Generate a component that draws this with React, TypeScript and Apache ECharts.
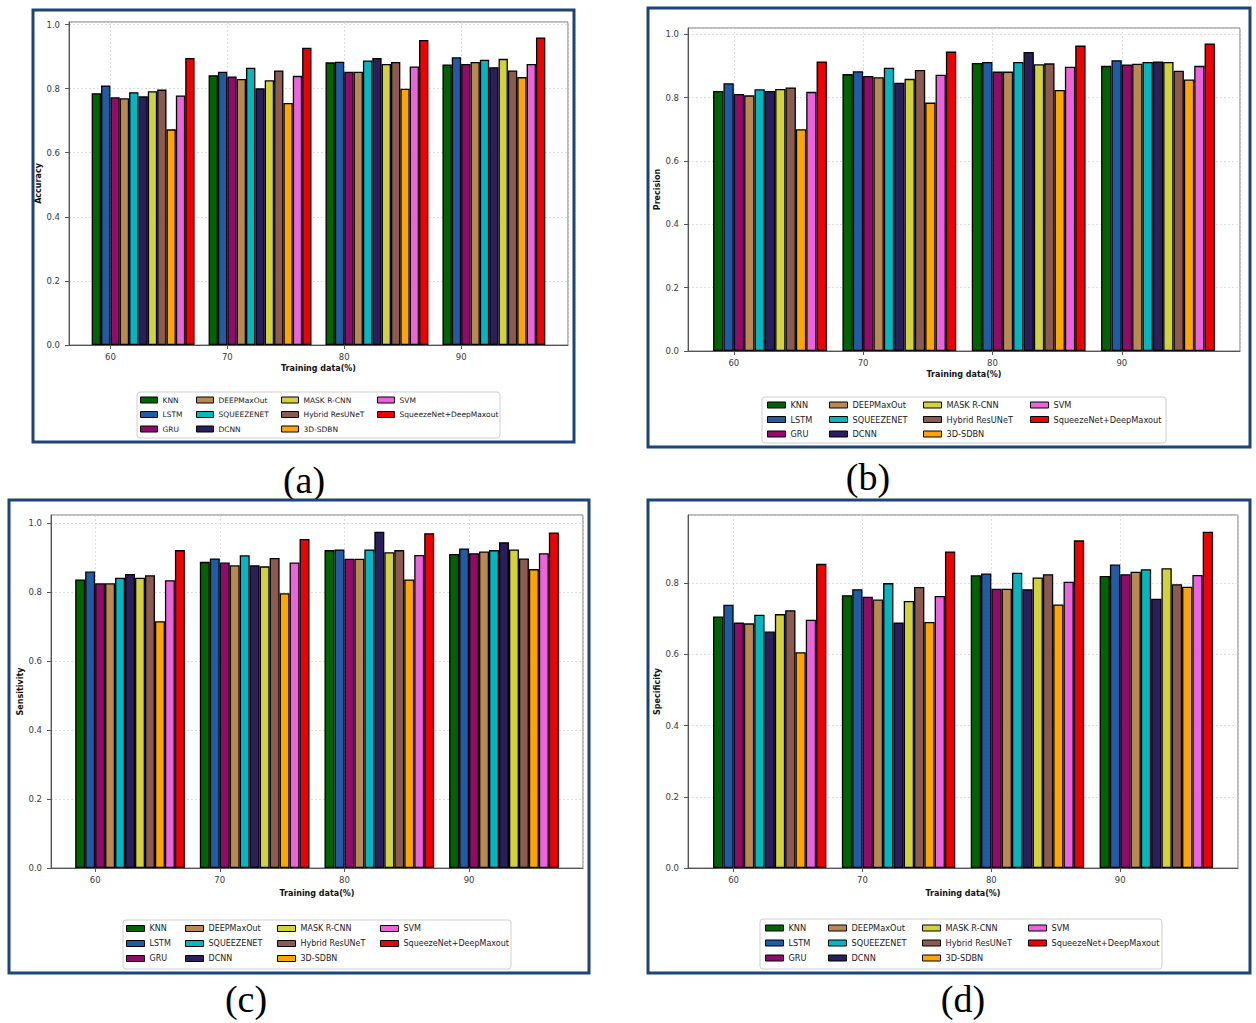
import React, { useEffect, useRef } from 'react';
import * as echarts from 'echarts';

// ---------- data ----------
const trainingData = ['60', '70', '80', '90'];
const methods = [
  'KNN', 'LSTM', 'GRU', 'DEEPMaxOut', 'SQUEEZENET', 'DCNN',
  'MASK R-CNN', 'Hybrid ResUNeT', '3D-SDBN', 'SVM', 'SqueezeNet+DeepMaxout',
];
const methodColors = [
  '#006400', '#1f5ca6', '#930a6d', '#b9894f', '#00b7c2', '#2b1e5c',
  '#d2d23a', '#8c5a4f', '#ffa500', '#ef62dd', '#f00000',
];

// values per method (same order as `methods`) for each training percentage
const accuracy60 = [0.786, 0.810, 0.773, 0.770, 0.789, 0.776, 0.792, 0.797, 0.673, 0.779, 0.896];
const accuracy70 = [0.842, 0.853, 0.838, 0.830, 0.865, 0.801, 0.826, 0.857, 0.755, 0.840, 0.928];
const accuracy80 = [0.882, 0.884, 0.853, 0.853, 0.888, 0.896, 0.877, 0.883, 0.800, 0.869, 0.952];
const accuracy90 = [0.875, 0.898, 0.877, 0.883, 0.890, 0.867, 0.893, 0.857, 0.836, 0.877, 0.960];

const precision60 = [0.821, 0.845, 0.811, 0.807, 0.826, 0.821, 0.827, 0.832, 0.700, 0.818, 0.914];
const precision70 = [0.874, 0.883, 0.868, 0.864, 0.894, 0.847, 0.859, 0.887, 0.784, 0.872, 0.945];
const precision80 = [0.909, 0.912, 0.882, 0.882, 0.912, 0.944, 0.905, 0.908, 0.824, 0.897, 0.964];
const precision90 = [0.900, 0.918, 0.904, 0.907, 0.912, 0.914, 0.912, 0.885, 0.857, 0.900, 0.971];

const sensitivity60 = [0.836, 0.859, 0.825, 0.825, 0.841, 0.852, 0.841, 0.848, 0.715, 0.834, 0.921];
const sensitivity70 = [0.887, 0.897, 0.885, 0.877, 0.906, 0.877, 0.874, 0.898, 0.796, 0.885, 0.953];
const sensitivity80 = [0.921, 0.923, 0.896, 0.896, 0.923, 0.974, 0.915, 0.921, 0.836, 0.907, 0.970];
const sensitivity90 = [0.910, 0.926, 0.912, 0.917, 0.921, 0.944, 0.923, 0.897, 0.866, 0.912, 0.972];

const specificity60 = [0.706, 0.739, 0.689, 0.687, 0.711, 0.664, 0.713, 0.724, 0.606, 0.697, 0.854];
const specificity70 = [0.766, 0.783, 0.762, 0.754, 0.800, 0.689, 0.750, 0.789, 0.691, 0.764, 0.889];
const specificity80 = [0.822, 0.827, 0.784, 0.784, 0.829, 0.783, 0.816, 0.825, 0.740, 0.804, 0.920];
const specificity90 = [0.820, 0.852, 0.825, 0.832, 0.839, 0.756, 0.842, 0.797, 0.790, 0.823, 0.944];

const metricNames = ['Accuracy', 'Precision', 'Sensitivity', 'Specificity'];
const panelLabels = ['(a)', '(b)', '(c)', '(d)'];
const xTitle = 'Training data(%)';

// ---------- layout (positions / sizes only) ----------
const panelLayouts = [
  {
    values: [accuracy60, accuracy70, accuracy80, accuracy90],
    grid: { left: 69, top: 22, width: 499, height: 323 },
    yNameGap: 21, xNameGap: 19,
    legendLefts: [140, 196, 281, 377], legendTop: 395.5, legendGap: 5.5, legendFont: 7.5, legendIconW: 17,
    legendFrame: [137, 392, 363, 46],
    border: [33, 10, 541, 432],
    labelPos: [304, 480],
  },
  {
    values: [precision60, precision70, precision80, precision90],
    grid: { left: 688, top: 28, width: 552, height: 323 },
    yNameGap: 23, xNameGap: 19,
    legendLefts: [767, 829, 923, 1030], legendTop: 400.5, legendGap: 5.5, legendFont: 8.2, legendIconW: 18,
    legendFrame: [762, 397, 404, 46],
    border: [648, 8, 602, 439],
    labelPos: [868, 477],
  },
  {
    values: [sensitivity60, sensitivity70, sensitivity80, sensitivity90],
    grid: { left: 51, top: 515, width: 532, height: 353 },
    yNameGap: 22, xNameGap: 21,
    legendLefts: [126, 185, 277, 380], legendTop: 924, legendGap: 6, legendFont: 8, legendIconW: 18,
    legendFrame: [123, 920, 388, 49],
    border: [9, 500, 580, 473],
    labelPos: [246, 999],
  },
  {
    values: [specificity60, specificity70, specificity80, specificity90],
    grid: { left: 688, top: 515, width: 550, height: 353 },
    yNameGap: 23, xNameGap: 21,
    legendLefts: [765, 828, 922, 1028], legendTop: 923.5, legendGap: 6, legendFont: 8.2, legendIconW: 18,
    legendFrame: [760, 919, 402, 50],
    border: [648, 500, 602, 473],
    labelPos: [963, 999],
  },
];

const legendColumns = [[0, 3], [3, 6], [6, 9], [9, 11]];
const BAR_W = 0.08; // bar width in group units (group pitch = 1)
const TICK_SHIFT = 2; // tick sits 2 bar widths after the group's left edge

const App: React.FC = () => {
  const ref = useRef<HTMLDivElement>(null);

  useEffect(() => {
    if (!ref.current) return;
    const chart = echarts.init(ref.current, undefined, { renderer: 'svg' });

    const nM = methods.length;
    const dataLo = -TICK_SHIFT * BAR_W;
    const dataHi = trainingData.length - 1 - TICK_SHIFT * BAR_W + nM * BAR_W;
    const pad = (dataHi - dataLo) * 0.05;
    const xMin = dataLo - pad;
    const xMax = dataHi + pad;

    const grids: any[] = [];
    const xAxes: any[] = [];
    const yAxes: any[] = [];
    const series: any[] = [];
    const legends: any[] = [];
    const graphics: any[] = [];

    const tickFont = { fontSize: 8.5, fontFamily: 'DejaVu Sans', color: '#3a3a3a' };
    const titleFont = { fontSize: 8, fontFamily: 'DejaVu Sans', fontWeight: 'bold', color: '#111' };

    panelLayouts.forEach((p, pi) => {
      let maxVal = 0;
      p.values.forEach((g) => g.forEach((v) => { if (v > maxVal) maxVal = v; }));
      const yMax = maxVal * 1.05;

      grids.push({ ...p.grid, show: true, borderColor: '#777', borderWidth: 1, backgroundColor: 'transparent' });

      xAxes.push({
        type: 'value', gridIndex: pi, min: xMin, max: xMax,
        name: xTitle, nameLocation: 'middle', nameGap: p.xNameGap, nameTextStyle: titleFont,
        axisLine: { show: true, onZero: false, lineStyle: { color: '#555', width: 1 } },
        axisTick: { show: true, length: 4, lineStyle: { color: '#555' } },
        axisLabel: {
          ...tickFont, margin: 7, showMinLabel: false, showMaxLabel: false,
          formatter: (v: number) => {
            const k = Math.round(v);
            return Math.abs(v - k) < 1e-6 && k >= 0 && k < trainingData.length ? trainingData[k] : '';
          },
        },
        splitLine: { show: true, lineStyle: { color: '#d4d4d4', type: [2, 2], width: 0.8 } },
      });

      yAxes.push({
        type: 'value', gridIndex: pi, min: 0, max: yMax, interval: 0.2,
        name: metricNames[pi], nameLocation: 'middle', nameGap: p.yNameGap, nameTextStyle: titleFont,
        axisLine: { show: true, onZero: false, lineStyle: { color: '#555', width: 1 } },
        axisTick: { show: true, length: 4, lineStyle: { color: '#555' } },
        axisLabel: {
          ...tickFont, margin: 9, showMaxLabel: false,
          formatter: (v: number) => (Math.abs(v * 5 - Math.round(v * 5)) < 1e-6 ? v.toFixed(1) : ''),
        },
        splitLine: { show: true, lineStyle: { color: '#d4d4d4', type: [2, 2], width: 0.8 } },
      });

      methods.forEach((m, mi) => {
        series.push({
          type: 'bar', name: m, xAxisIndex: pi, yAxisIndex: pi,
          barWidth: '100%', barGap: '-100%',
          itemStyle: { color: methodColors[mi], borderColor: '#000', borderWidth: 1.3 },
          data: p.values.map((g, k) => [k + (mi + 0.5 - TICK_SHIFT) * BAR_W, g[mi]]),
        });
      });

      legendColumns.forEach(([a, b], ci) => {
        legends.push({
          data: methods.slice(a, b), orient: 'vertical',
          left: p.legendLefts[ci], top: p.legendTop, padding: 0,
          itemGap: p.legendGap, itemWidth: p.legendIconW, itemHeight: 6, icon: 'rect',
          itemStyle: { borderColor: '#000', borderWidth: 1 },
          textStyle: { fontSize: p.legendFont, fontFamily: 'DejaVu Sans', color: '#222', lineHeight: 9 },
          selectedMode: false,
        });
      });

      const [fx, fy, fw, fh] = p.legendFrame;
      graphics.push({
        type: 'rect', z: 1, shape: { x: fx, y: fy, width: fw, height: fh, r: 3 },
        style: { fill: '#fff', stroke: '#cfcfcf', lineWidth: 1 },
      });
      const [bx, by, bw, bh] = p.border;
      graphics.push({
        type: 'rect', z: 10, shape: { x: bx, y: by, width: bw, height: bh },
        style: { fill: 'none', stroke: '#1b4478', lineWidth: 3 },
      });
      graphics.push({
        type: 'text', z: 10, x: p.labelPos[0], y: p.labelPos[1],
        style: {
          text: panelLabels[pi], fontSize: 38, fontFamily: 'Liberation Serif', fill: '#000',
          textAlign: 'center', textVerticalAlign: 'middle', align: 'center', verticalAlign: 'middle',
        },
      });
    });

    chart.setOption({
      animation: false,
      backgroundColor: '#ffffff',
      grid: grids,
      xAxis: xAxes,
      yAxis: yAxes,
      legend: legends,
      series,
      graphic: { elements: graphics },
    });

    return () => chart.dispose();
  }, []);

  return (
    <div
      ref={ref}
      style={{ position: 'absolute', left: 0, top: 0, width: 1256, height: 1023 }}
    />
  );
};

export default App;
